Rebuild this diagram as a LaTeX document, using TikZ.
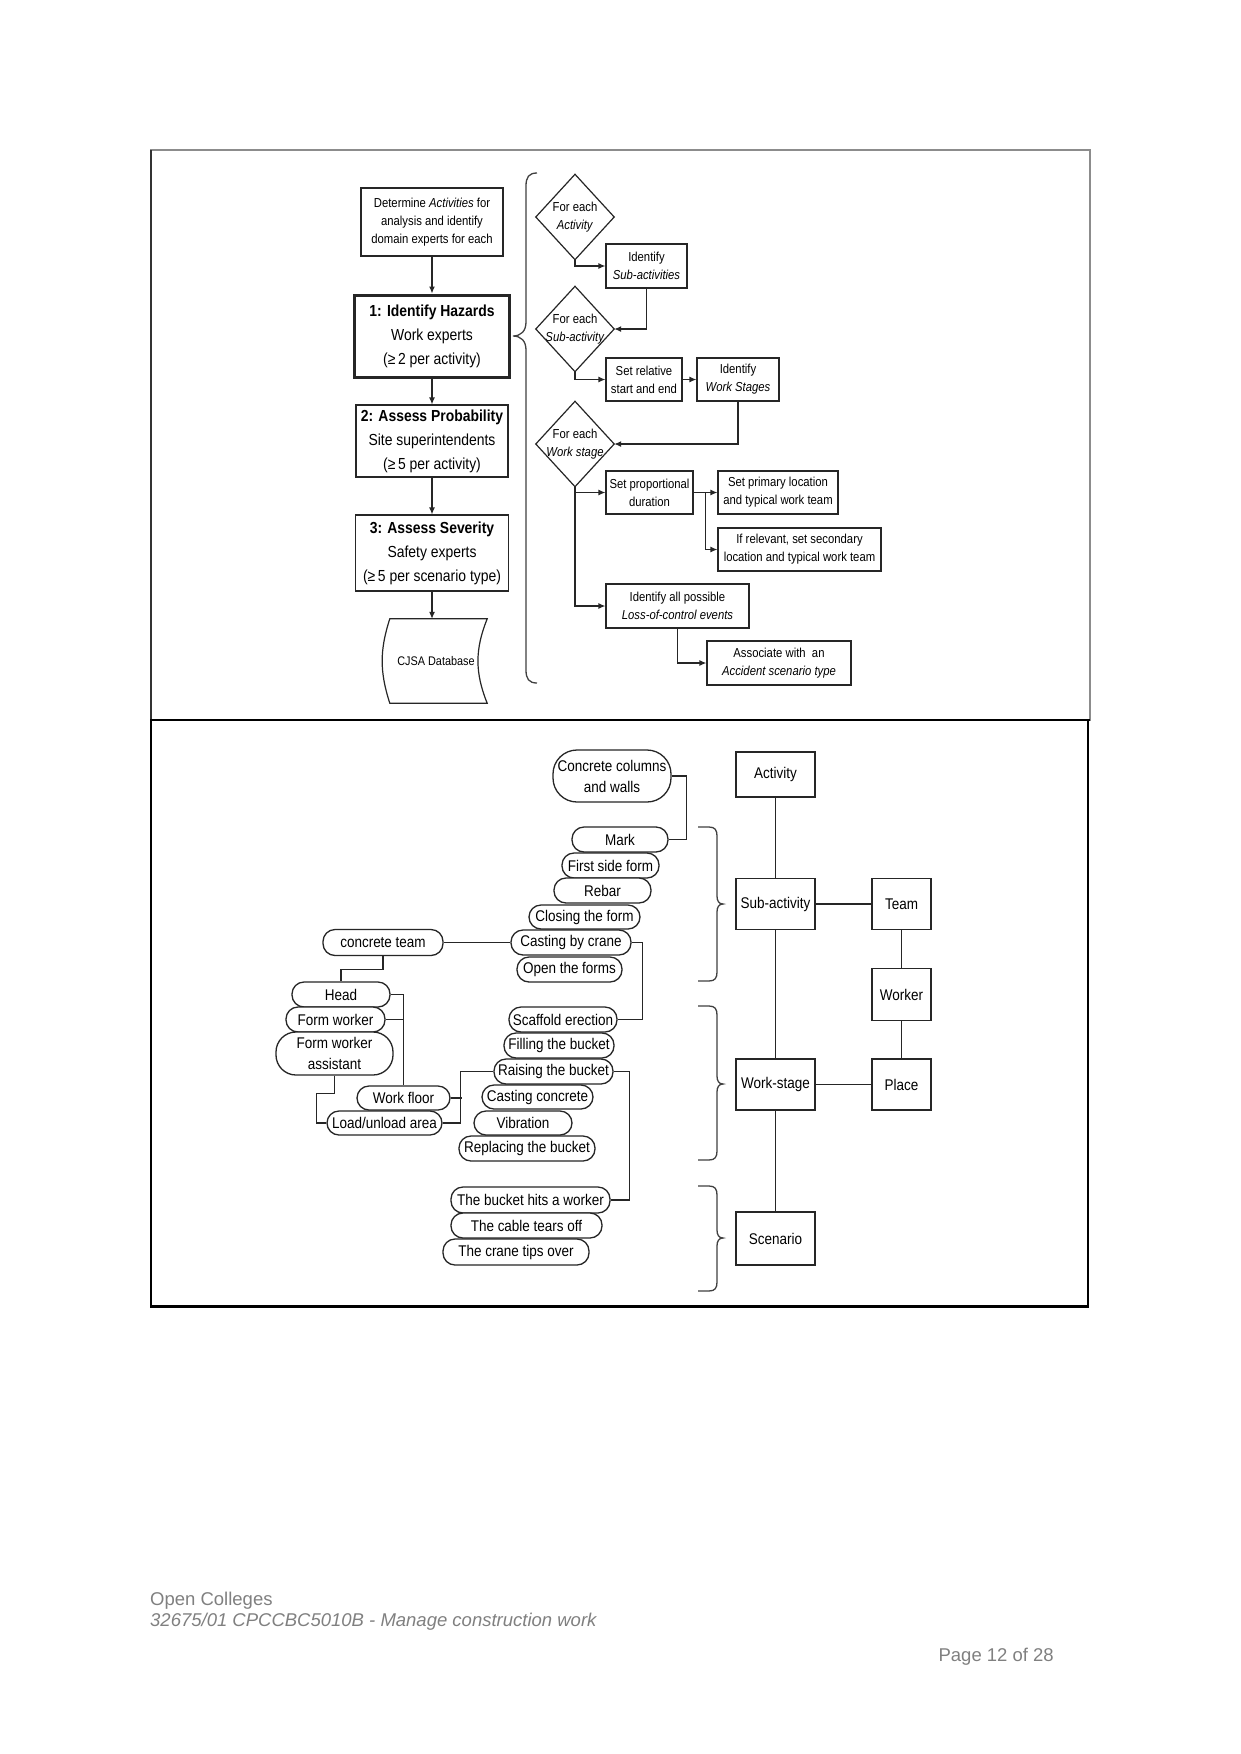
\documentclass[tikz,border=0pt]{standalone}
\usepackage{fontspec}
\setmainfont{Liberation Sans}
\newfontfamily\nf[FakeStretch=0.87]{Liberation Sans}
\usetikzlibrary{arrows.meta,calc}
\tikzset{
  sm/.style={font={\nf\fontsize{13}{18}\selectfont}},
  tbox/.style={draw=black!85, line width=1.2pt, fill=white, inner sep=0pt, align=center, sm},
  bigbox/.style={draw=black!85, line width=1.2pt, fill=white, inner sep=0pt, align=center, font={\nf\fontsize{16}{24}\selectfont}},
  dia/.style={draw=none, inner sep=0pt, align=center, minimum width=78pt, minimum height=85pt, sm},
  dline/.style={draw=black!85, line width=1.2pt},
  arr/.style={-{Latex[length=7pt,width=6pt]}, line width=1.2pt, draw=black!85},
  ln/.style={line width=1.3pt, draw=black!85},
  pill/.style={draw=black!85, line width=1.3pt, fill=white, inner sep=0pt, align=center, rounded corners=#1, font={\nf\fontsize{15.5}{21}\selectfont}},
  pill/.default=12pt,
  ebox/.style={draw=black!85, line width=1.4pt, fill=white, inner sep=0pt, align=center, font={\nf\fontsize{15.5}{21}\selectfont}},
  foot/.style={text=black!50, font={\fontsize{18.5}{22}\selectfont}, inner sep=0pt},
}
\begin{document}
\begin{tikzpicture}[x=1pt,y=-1pt]
\fill[white] (0,0) rectangle (1241,1754);
\useasboundingbox (0,0) rectangle (1241,1754);

% frame
\draw[draw=black!45, line width=1.5pt] (151,150) rectangle (1090,720);
\draw[draw=black!80, line width=1.5pt] (151,150) -- (151,720);
\draw[line width=1.5pt] (151,720) rectangle (1088,1306);
\draw[line width=2.5pt] (150,720) -- (1090,720);
\draw[line width=3pt] (150,1306) -- (1089,1306);

% ---------- top panel, left column ----------
\node[tbox, minimum width=142pt, minimum height=68pt] (det) at (432,222)
  {Determine \textit{Activities} for\\analysis and identify\\domain experts for each};
\node[bigbox, line width=3pt, minimum width=155pt, minimum height=82pt] (haz) at (432,336)
  {\textbf{1: Identify Hazards}\\Work experts\\(≥\,2 per activity)};
\node[bigbox, minimum width=152pt, minimum height=72pt] (prob) at (432,441)
  {\textbf{2: Assess Probability}\\Site superintendents\\(≥\,5 per activity)};
\node[bigbox, minimum width=153pt, minimum height=76pt] (sev) at (432,553)
  {\textbf{3: Assess Severity}\\Safety experts\\(≥\,5 per scenario type)};
\node[draw=none, inner sep=0pt, minimum width=98pt, minimum height=84pt, font={\nf\fontsize{12.5}{18}\selectfont}] (db) at (436,661) {CJSA Database};
\draw[dline] ($(db.north west)+(3,0)$) -- ($(db.north east)+(2,0)$) to[bend right=22] ($(db.south east)+(2,0)$)
  -- ($(db.south west)+(3,0)$) to[bend left=18] cycle;

\draw[arr] (det.south) -- (det.south |- haz.north);
\draw[arr] (haz.south) -- (haz.south |- prob.north);
\draw[arr] (prob.south) -- (prob.south |- sev.north);
\draw[arr] (sev.south) -- (sev.south |- db.north);

% big left brace
\draw[line width=1.3pt, draw=black!75] (537,173) .. controls (529,173) and (526,177) .. (526,186)
  -- (526,322) .. controls (526,331) and (521,336) .. (513,336)
  .. controls (521,336) and (526,341) .. (526,350)
  -- (526,670) .. controls (526,679) and (529,683) .. (537,683);

% ---------- top panel, right flow ----------
\node[dia] (d1) at (575,217) {For each\\\textit{Activity}};
\node[dia] (d2) at (575,329) {For each\\\textit{Sub-activity}};
\node[dia] (d3) at (575,444) {For each\\\textit{Work stage}};
\foreach \d in {d1,d2,d3}{
  \draw[dline] (\d.north) -- (\d.east) -- (\d.south) -- (\d.west) -- cycle;
}
\node[tbox, minimum width=81pt, minimum height=44pt] (subact) at (646.5,266) {Identify\\\textit{Sub-activities}};
\node[tbox, minimum width=76pt, minimum height=43pt] (rel) at (644,379.5) {Set relative\\start and end};
\node[tbox, minimum width=82pt, minimum height=43pt] (ws) at (738,379.5) {Identify\\\textit{Work Stages}};
\node[tbox, minimum width=87pt, minimum height=43pt] (dur) at (649.5,492.5) {Set proportional\\duration};
\node[tbox, minimum width=120pt, minimum height=43pt] (prim) at (778,492.5) {Set primary location\\and typical work team};
\node[tbox, minimum width=163pt, minimum height=43pt] (sec) at (799.5,549.5) {If relevant, set secondary\\location and typical work team};
\node[tbox, minimum width=143pt, minimum height=44pt] (loc) at (677.5,606) {Identify all possible\\\textit{Loss-of-control events}};
\node[tbox, minimum width=144pt, minimum height=44pt] (acc) at (779,663) {Associate with\ \ an\\\textit{Accident scenario type}};

\draw[arr] (d1.south) |- (subact.west);
\draw[arr] (subact.south) |- (d2.east);
\draw[arr] (d2.south) |- (rel.west);
\draw[arr] (rel.east) -- (ws.west);
\draw[arr] (ws.south) |- (d3.east);
\draw[arr] (d3.south) |- (dur.west);
\draw[arr] (d3.south) |- (loc.west);
\draw[arr] (dur.east) -- (prim.west);
\coordinate (br) at ($(dur.east)!0.5!(prim.west)$);
\draw[arr] (br) |- (sec.west);
\draw[arr] (loc.south) |- (acc.west);

% ---------- lower panel, right model ----------
\node[ebox, minimum width=79pt, minimum height=45pt] (act) at (775.5,774.5) {Activity};
\node[ebox, minimum width=79pt, minimum height=51pt] (sub) at (775.5,904) {Sub-activity};
\node[ebox, minimum width=59pt, minimum height=51pt] (team) at (901.5,904) {Team};
\node[ebox, minimum width=59pt, minimum height=52pt] (worker) at (901.5,994.5) {Worker};
\node[ebox, minimum width=79pt, minimum height=51pt] (wst) at (775.5,1084.5) {Work-stage};
\node[ebox, minimum width=59pt, minimum height=51pt] (place) at (901.5,1084.5) {Place};
\node[ebox, minimum width=79pt, minimum height=53pt] (scn) at (775.5,1238.5) {Scenario};
\draw[ln] (act.south) -- (sub.north);
\draw[ln] (sub.south) -- (wst.north);
\draw[ln] (wst.south) -- (scn.north);
\draw[ln] (sub.east) -- (team.west);
\draw[ln] (team.south) -- (worker.north);
\draw[ln] (worker.south) -- (place.north);
\draw[ln] (wst.east) -- (place.west);

% right-facing braces
\draw[line width=1.3pt, draw=black!75] (698,827) -- (709,827) .. controls (715,827) and (717,830) .. (717,836)
  -- (717,896) .. controls (717,901) and (719,904) .. (723,904)
  .. controls (719,904) and (717,907) .. (717,912)
  -- (717,972) .. controls (717,978) and (715,981) .. (709,981) -- (698,981);
\draw[line width=1.3pt, draw=black!75] (698,1006) -- (709,1006) .. controls (715,1006) and (717,1009) .. (717,1015)
  -- (717,1076) .. controls (717,1081) and (719,1084) .. (723,1084)
  .. controls (719,1084) and (717,1087) .. (717,1092)
  -- (717,1151) .. controls (717,1157) and (715,1160) .. (709,1160) -- (698,1160);
\draw[line width=1.3pt, draw=black!75] (698,1186) -- (709,1186) .. controls (715,1186) and (717,1189) .. (717,1195)
  -- (717,1230) .. controls (717,1235) and (719,1238) .. (723,1238)
  .. controls (719,1238) and (717,1241) .. (717,1246)
  -- (717,1282) .. controls (717,1288) and (715,1291) .. (709,1291) -- (698,1291);

% ---------- lower panel, left tree ----------
\node[pill=24pt, minimum width=118pt, minimum height=52pt] (ccw) at (612,776) {Concrete columns\\and walls};
\node[pill, minimum width=96pt, minimum height=25pt] (mark) at (620,839.5) {Mark};
\node[pill, minimum width=97pt, minimum height=25pt] (fsf) at (610.5,865.5) {First side form};
\node[pill, minimum width=97pt, minimum height=25pt] (rebar) at (602.5,890.5) {Rebar};
\node[pill, minimum width=111pt, minimum height=24pt] (cls) at (584.5,917) {Closing the form};
\node[pill, minimum width=120pt, minimum height=25pt] (cbc) at (571,942.5) {Casting by crane};
\node[pill, minimum width=105pt, minimum height=25pt] (otf) at (569.5,969.5) {Open the forms};

\node[pill, minimum width=120pt, minimum height=26pt] (ct) at (383,942.5) {concrete team};
\node[pill, minimum width=98pt, minimum height=25pt] (head) at (341,994.5) {Head};
\node[pill, minimum width=99pt, minimum height=25pt] (fw) at (335.5,1019.5) {Form worker};
\node[pill=20pt, minimum width=117pt, minimum height=43pt] (fwa) at (334.5,1053.5) {Form worker\\assistant};
\node[pill, minimum width=93pt, minimum height=24pt] (wf) at (403.5,1098) {Work floor};
\node[pill, minimum width=115pt, minimum height=24pt] (lua) at (384.5,1123) {Load/unload area};

\node[pill, minimum width=108pt, minimum height=25pt] (sce) at (563,1019.5) {Scaffold erection};
\node[pill, minimum width=110pt, minimum height=25pt] (ftb) at (559,1045.5) {Filling the bucket};
\node[pill, minimum width=119pt, minimum height=25pt] (rtb) at (553.5,1071.5) {Raising the bucket};
\node[pill, minimum width=111pt, minimum height=24pt] (cco) at (537.5,1097) {Casting concrete};
\node[pill, minimum width=98pt, minimum height=24pt] (vib) at (523,1123) {Vibration};
\node[pill, minimum width=136pt, minimum height=25pt] (rpb) at (527,1148.5) {Replacing the bucket};

\node[pill, minimum width=159pt, minimum height=26pt] (bhw) at (530.5,1200) {The bucket hits a worker};
\node[pill, minimum width=151pt, minimum height=25pt] (cto) at (526.5,1225.5) {The cable tears off};
\node[pill, minimum width=146pt, minimum height=26pt] (cti) at (516,1252) {The crane tips over};

\draw[ln] (ccw.east) -- ++(15,0) |- (mark.east);
\draw[ln] (cbc.east) -- ++(11,0) |- (sce.east);
\draw[ln] (ct.east) -- (cbc.west);
\draw[ln] (ct.south) -- ++(0,13) -| (head.north);
\draw[ln] (head.east) -| (wf.north);
\draw[ln] (fw.east) -- (fw.east -| wf.north);
\draw[ln] (fwa.south) -- ++(0,18) -| ($(lua.west)+(-10,0)$) -- (lua.west);
\draw[ln] (rtb.west) -- ++(-33,0) |- (lua.east);
\draw[ln] (wf.east) -- ++(11,0);
\draw[ln] (rtb.east) -- ++(16,0) |- (bhw.east);

% ---------- footer ----------
\node[foot, anchor=base west] (f1) at (150,1605) {Open Colleges};
\node[foot, anchor=base west] (f2) at (150,1626) {\itshape 32675/01 CPCCBC5010B - Manage construction work};
\node[foot, anchor=base east] (f3) at (1054,1661) {Page 12 of 28};
\end{tikzpicture}
\end{document}
